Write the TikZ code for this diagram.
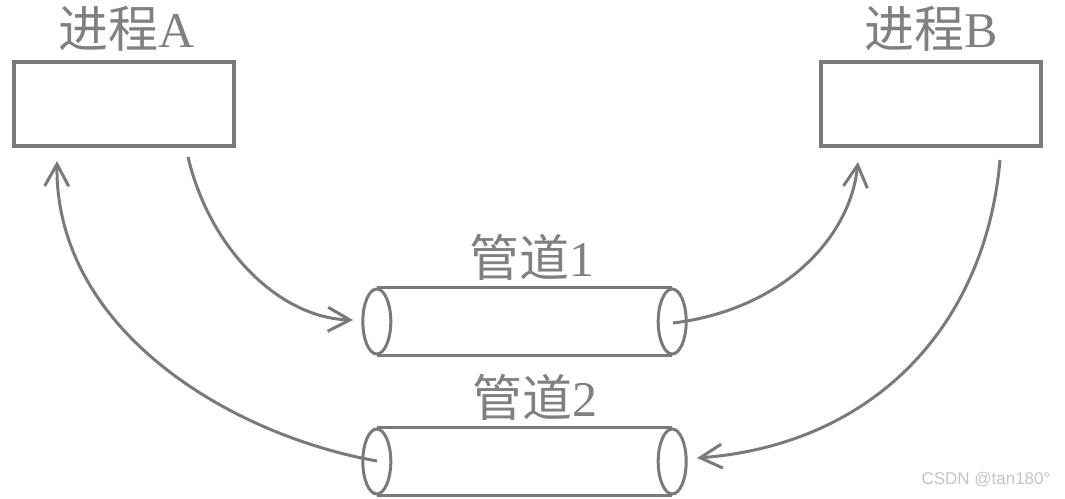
\documentclass[tikz,border=0pt]{standalone}
\usepackage{fontspec}
\setmainfont{Liberation Serif}
\newfontfamily\cjk{Noto Sans CJK SC}
\newfontfamily\wmfont{Liberation Sans}
\usetikzlibrary{arrows.meta}
\definecolor{ln}{HTML}{7A7A7A}
\definecolor{tx}{HTML}{808080}
\definecolor{wm}{HTML}{C4C4C4}
\begin{document}
\begin{tikzpicture}[x=1pt,y=-1pt,
  procbox/.style={draw=ln,line width=4pt,minimum width=220pt,minimum height=84pt,inner sep=0pt},
  pipebody/.style={minimum width=295pt,minimum height=67pt,inner sep=0pt},
  lbl/.style={text=tx,inner sep=0pt,font=\fontsize{50}{50}\selectfont},
  pipeline/.style={draw=ln,line width=3pt},
  conn/.style={draw=ln,line width=3pt,-{Straight Barb[length=22pt,width=24pt]}}
]
\useasboundingbox (0,0) rectangle (1065,498);
% boxes
\node[procbox] (boxA) at (124,103.5) {};
\node[procbox] (boxB) at (930.5,103.5) {};
\node[lbl] (labA) at (127,29) {{\cjk 进程}A};
\node[lbl] (labB) at (931,29) {{\cjk 进程}B};
% pipes
\node[pipebody] (pipe1) at (524.5,321.5) {};
\node[pipebody] (pipe2) at (524.5,461.5) {};
\foreach \p in {pipe1,pipe2}{
  \draw[pipeline] (\p.north west) -- (\p.north east);
  \draw[pipeline] (\p.south west) -- (\p.south east);
  \draw[pipeline,fill=white] (\p.west) ellipse [x radius=14, y radius=32.5];
  \draw[pipeline,fill=white] (\p.east) ellipse [x radius=14, y radius=32.5];
}
\node[lbl] (lab1) at (532,257) {{\cjk 管道}1};
\node[lbl] (lab2) at (535,397) {{\cjk 管道}2};
% connector endpoints
\coordinate (aout) at (188,157);
\coordinate (ain) at (57,161);
\coordinate (bin) at (858,162);
\coordinate (bout) at (1000,160);
\coordinate (p1in) at (353,320);
\coordinate (p1out) at (673,323);
\coordinate (p2in) at (697,458);
\coordinate (p2out) at (377,461);
% connectors
\draw[conn] (aout) .. controls (210,250) and (280,318) .. (p1in);
\draw[conn] (p1out) .. controls (780,310) and (850,240) .. (bin);
\draw[conn] (bout) .. controls (985,330) and (870,445) .. (p2in);
\draw[conn] (p2out) .. controls (230,435) and (55,330) .. (ain);
% watermark
\node[text=wm,inner sep=0pt,font=\wmfont\fontsize{17}{17}\selectfont] (wmark) at (986,480) {CSDN @tan180°};
\end{tikzpicture}
\end{document}
